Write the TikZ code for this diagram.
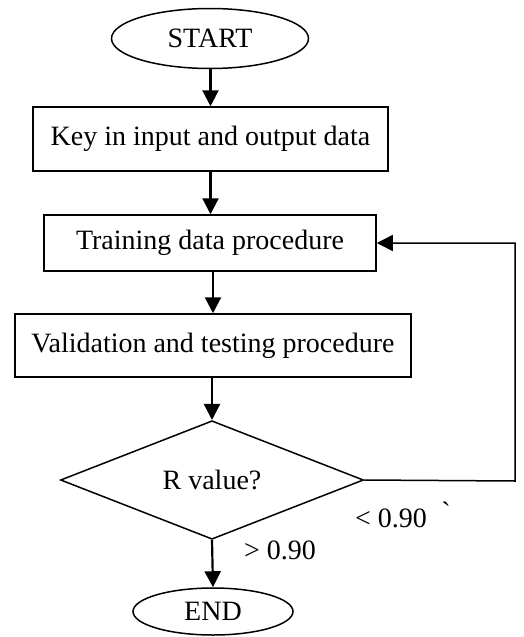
\documentclass[tikz,border=0pt]{standalone}
\usepackage{fontspec}
\setmainfont{Liberation Serif}
\newfontfamily\rawserif{Liberation Serif}
\usetikzlibrary{shapes.geometric,arrows.meta}
\tikzset{
  base/.style={draw=black, line width=1.5pt, inner sep=0pt, font=\fontsize{28}{33}\selectfont},
  term/.style={base, ellipse},
  proc/.style={base, rectangle},
  dec/.style={base, diamond},
  arr/.style={line width=2.2pt, -{Triangle[length=16pt,width=16pt]}},
  fbline/.style={line width=1.5pt, -{Triangle[length=16pt,width=16pt]}},
  lbl/.style={inner sep=0pt, font=\fontsize{28}{33}\selectfont}
}
\begin{document}
\begin{tikzpicture}[x=1pt,y=-1pt]
\useasboundingbox (0,0) rectangle (523,637);
\node[term, minimum width=197pt, minimum height=60pt] (start) at (210,38.5) {START};
\node[proc, minimum width=355pt, minimum height=64pt] (b1) at (210.5,139) {Key in input and output data};
\node[proc, minimum width=332pt, minimum height=56pt] (b2) at (210,243) {Training data procedure};
\node[proc, minimum width=396pt, minimum height=63pt] (b3) at (213,345.5) {Validation and testing procedure};
\node[dec, minimum width=303pt, minimum height=104pt] (rv) at (212,480) {R value?};
\node[term, minimum width=160pt, minimum height=47pt] (end) at (213,611.5) {END};
\coordinate (fb) at (515,481);
\node[lbl] (lt) at (391,518) {< 0.90};
\node[lbl] (tick) at (446,512) {\rawserif\symbol{96}};
\node[lbl] (gt) at (280,550) {> 0.90};
\draw[arr] (start.south -| b1.north) -- (b1.north);
\draw[arr] (b1.south) -- (b1.south |- b2.north);
\draw[arr] (b2.south -| b3.north) -- (b3.north);
\draw[arr] (b3.south -| rv.north) -- (rv.north);
\draw[arr] (rv.south) -- (end.north);
\draw[fbline] (rv.east) -- (fb) |- (b2.east);
\end{tikzpicture}
\end{document}
